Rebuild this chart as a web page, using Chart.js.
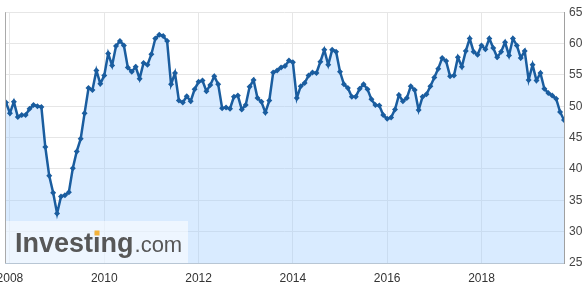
<!DOCTYPE html>
<html>
<head>
<meta charset="utf-8">
<script src="https://cdn.jsdelivr.net/npm/chart.js@4"></script>
<style>
    html, body { margin: 0; padding: 0; background: #fff; }
    #wrap { width: 587px; height: 297px; position: relative; }
</style>
</head>
<body>
<div id="wrap"><canvas id="pmiChart"></canvas></div>
<script>
// Monthly index readings, placed at their release month.
// First reading (Nov 2007) was released Dec 2007.
const firstReleaseYear = 2007;
const firstReleaseMonth = 11; // 0-based, December

const pmi2007 = [50.6, 48.9];
const pmi2008 = [50.7, 48.3, 48.6, 48.6, 49.6, 50.2, 50.0, 49.9, 43.5, 38.9, 36.2, 32.9];
const pmi2009 = [35.6, 35.8, 36.3, 40.1, 42.8, 44.8, 48.9, 52.9, 52.6, 55.7, 53.6, 54.9];
const pmi2010 = [58.4, 56.5, 59.6, 60.4, 59.7, 56.2, 55.5, 56.3, 54.4, 56.9, 56.6, 58.3];
const pmi2011 = [60.8, 61.4, 61.2, 60.4, 53.5, 55.3, 50.9, 50.6, 51.6, 50.8, 52.7, 53.9];
const pmi2012 = [54.1, 52.4, 53.4, 54.8, 53.5, 49.7, 49.8, 49.6, 51.5, 51.7, 49.5, 50.2];
const pmi2013 = [53.1, 54.2, 51.3, 50.7, 49.0, 50.9, 55.4, 55.7, 56.2, 56.4, 57.3, 57.0];
const pmi2014 = [51.3, 53.2, 53.7, 54.9, 55.4, 55.3, 57.1, 59.0, 56.6, 59.0, 58.7, 55.5];
const pmi2015 = [53.5, 52.9, 51.5, 51.5, 52.8, 53.5, 52.7, 51.1, 50.2, 50.1, 48.6, 48.0];
const pmi2016 = [48.2, 49.5, 51.8, 50.8, 51.3, 53.2, 52.6, 49.4, 51.5, 51.9, 53.2, 54.6];
const pmi2017 = [56.0, 57.7, 57.2, 54.8, 54.9, 57.8, 56.3, 58.8, 60.8, 58.7, 58.2, 59.7];
const pmi2018 = [59.1, 60.8, 59.3, 57.8, 58.7, 60.2, 58.1, 60.8, 59.7, 57.7, 58.8, 54.2];
const pmi2019 = [56.6, 54.1, 55.3, 52.8, 52.1, 51.7, 51.2, 49.1, 47.8];

const xTickYears = [2008, 2010, 2012, 2014, 2016, 2018];
const yMin = 25, yMax = 65, yStep = 5;

const values = [].concat(pmi2007, pmi2008, pmi2009, pmi2010, pmi2011, pmi2012, pmi2013,
    pmi2014, pmi2015, pmi2016, pmi2017, pmi2018, pmi2019);
const points = values.map((v, i) => ({
    x: firstReleaseYear + (firstReleaseMonth + i) / 12,
    y: v
}));

const lineColor = '#1a5d9f';
const fontFamily = '"Liberation Sans", Arial, sans-serif';

// left frame line + watermark box
const framePlugin = {
    id: 'frame',
    afterDatasetsDraw(chart) {
        const { ctx, chartArea } = chart;
        ctx.save();
        ctx.strokeStyle = '#aaaaaa';
        ctx.lineWidth = 1;
        ctx.beginPath();
        ctx.moveTo(chartArea.left + 0.5, chartArea.top);
        ctx.lineTo(chartArea.left + 0.5, chartArea.bottom);
        ctx.stroke();

        const bx = chartArea.left, by = chartArea.bottom - 42;
        ctx.fillStyle = 'rgba(255,255,255,0.55)';
        ctx.fillRect(bx + 1, by, 182, 42);

        const tx = bx + 10, base = chartArea.bottom - 11;
        ctx.fillStyle = '#575757';
        ctx.font = 'bold 27px ' + fontFamily;
        ctx.textBaseline = 'alphabetic';
        ctx.fillText('Investing', tx, base);
        const w = ctx.measureText('Investing').width;
        const wi = ctx.measureText('Invest').width;
        ctx.font = '22px ' + fontFamily;
        ctx.fillText('.com', tx + w + 1, base);
        ctx.fillStyle = '#f3b23a';
        ctx.fillRect(tx + wi + 1.5, base - 21.5, 5, 5);
        ctx.restore();
    }
};

const ctx = document.getElementById('pmiChart').getContext('2d');
new Chart(ctx, {
    type: 'line',
    data: {
        datasets: [{
            data: points,
            borderColor: lineColor,
            backgroundColor: 'rgba(160, 205, 255, 0.4)',
            fill: 'start',
            borderWidth: 2.5,
            tension: 0,
            pointStyle: 'rectRot',
            pointRadius: 3,
            pointBorderWidth: 0,
            pointBackgroundColor: lineColor
        }]
    },
    options: {
        responsive: true,
        maintainAspectRatio: false,
        animation: false,
        layout: { padding: { left: 5, top: 7, right: 0, bottom: 0 } },
        plugins: { legend: { display: false }, tooltip: { enabled: false } },
        scales: {
            x: {
                type: 'linear',
                min: points[0].x - 1 / 47,
                max: points[points.length - 1].x,
                afterBuildTicks: s => { s.ticks = xTickYears.map(v => ({ value: v })); },
                afterFit: s => {
                    s.height = 34;
                    // let the first label hang off the left edge like the original
                    s.paddingLeft = 0;
                    s.paddingRight = 0;
                },
                ticks: {
                    callback: v => String(v),
                    autoSkip: false,
                    maxRotation: 0,
                    padding: 8,
                    color: '#333',
                    font: { size: 12, family: fontFamily }
                },
                grid: { color: '#e6e6e6', drawTicks: false },
                border: { color: '#b8c6d4' }
            },
            y: {
                position: 'right',
                min: yMin,
                max: yMax,
                afterFit: s => { s.width = 23; },
                ticks: {
                    stepSize: yStep,
                    padding: 5,
                    color: '#444',
                    font: { size: 12, family: fontFamily }
                },
                grid: { color: '#e6e6e6', drawTicks: false },
                border: { color: '#a0a0a0' }
            }
        }
    },
    plugins: [framePlugin]
});
</script>
</body>
</html>
